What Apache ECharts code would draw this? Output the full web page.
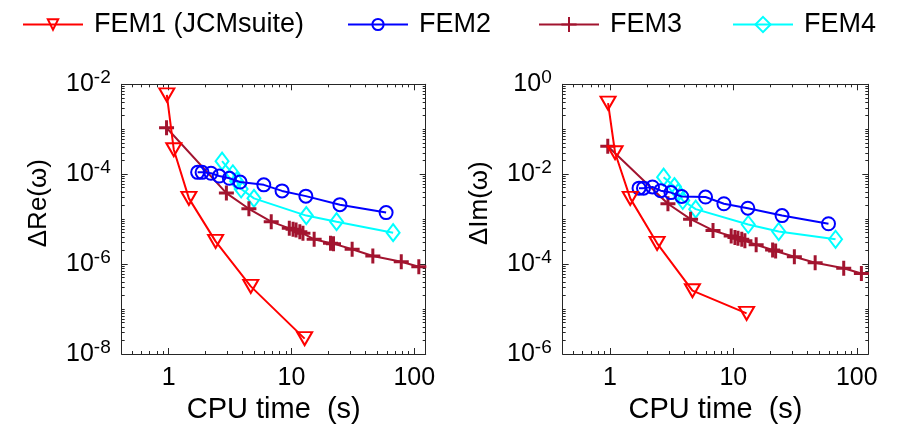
<!DOCTYPE html>
<html><head><meta charset="utf-8">
<script src="https://cdn.jsdelivr.net/npm/echarts@6/dist/echarts.min.js"></script>
<style>html,body{margin:0;padding:0;background:#fff}#c{width:903px;height:432px}</style>
</head><body><div id="c"></div>
<script>
// ---- data (CPU time in s, errors) ----
const names = ['FEM1 (JCMsuite)', 'FEM2', 'FEM3', 'FEM4'];
const xFEM1 = [0.965, 1.10, 1.46, 2.41, 4.66, 12.8];
const reFEM1 = [5.8e-3, 3.5e-4, 2.9e-5, 3.2e-6, 3.2e-7, 2.2e-8];
const imFEM1 = [0.38, 3.0e-2, 2.9e-3, 2.9e-4, 2.56e-5, 8.0e-6];

const xFEM2 = [1.72, 1.87, 2.21, 2.58, 3.12, 3.81, 5.95, 8.38, 13.1, 24.8, 59];
const reFEM2 = [1.1e-4, 1.1e-4, 1.05e-4, 9.1e-5, 8.1e-5, 6.7e-5, 5.8e-5, 4.25e-5, 3.25e-5, 2.1e-5, 1.4e-5];
const imFEM2 = [4.9e-3, 4.9e-3, 5.2e-3, 4.3e-3, 3.9e-3, 3.2e-3, 3.1e-3, 2.2e-3, 1.75e-3, 1.2e-3, 7.9e-4];

const xFEM3 = [0.96, 2.95, 4.5, 6.84, 9.6, 10.3, 10.9, 11.7, 12.4, 15.3, 20.8, 22.0, 31.2, 46, 78.4, 109];
const reFEM3 = [1.08e-3, 3.8e-5, 1.7e-5, 8.8e-6, 6.25e-6, 5.94e-6, 5.74e-6, 5.26e-6, 4.84e-6, 3.56e-6, 2.9e-6, 2.85e-6, 2.14e-6, 1.51e-6, 1.13e-6, 8.7e-7];
const imFEM3 = [4.2e-2, 2.2e-3, 1.0e-3, 5.6e-4, 4.2e-4, 3.9e-4, 3.75e-4, 3.56e-4, 3.3e-4, 2.7e-4, 2.06e-4, 1.95e-4, 1.46e-4, 1.07e-4, 8.05e-5, 6.2e-5];

const xFEM4 = [2.72, 3.33, 3.57, 3.89, 4.95, 13.2, 23.3, 67.3];
const reFEM4 = [1.95e-4, 1.02e-4, 7.0e-5, 4.7e-5, 2.9e-5, 1.2e-5, 8.8e-6, 5.0e-6];
const imFEM4 = [8.6e-3, 5.3e-3, 3.9e-3, 2.6e-3, 1.67e-3, 7.6e-4, 5.3e-4, 3.56e-4];

const xTicks = [1, 10, 100];
const yTicksRe = [1e-8, 1e-6, 1e-4, 1e-2];
const yTicksIm = [1e-6, 1e-4, 1e-2, 1];
const xRange = [0.414, 124];
const yRangeRe = [1e-8, 1e-2];
const yRangeIm = [1e-6, 1];

// ---- helpers ----
const L = Math.log10;
const FONT = '"Liberation Sans", Arial, Helvetica, sans-serif';
const AX = '#262626';
function minorList(lo, hi, majors) {
  const out = [];
  const a = Math.floor(lo) - 1, b = Math.ceil(hi) + 1;
  for (let n = a; n <= b; n++) for (let k = 1; k <= 9; k++) {
    const v = L(k) + n;
    if (v > lo + 1e-6 && v < hi - 1e-6 && !majors.some(m => Math.abs(m - v) < 1e-6)) out.push(v);
  }
  return out;
}
const colors = ['#ff0000', '#0000ff', '#a2142f', '#00ffff'];
const symbols = [
  'path://M0,0 L12,0 L6,10 Z',
  'circle',
  'path://M6,0 L6,12 M0,6 L12,6',
  'path://M6,0 L12,8 L6,16 L0,8 Z'
];
const symSizes = [[15, 13], 13, [15, 15], [13, 17]];
const symBorder = [2, 2, 3, 2];

const grids = [
  { left: 121.7, right: 903 - 425.7, top: 84.3, bottom: 432 - 354, outerBoundsMode: 'none' },
  { left: 562.7, right: 903 - 868.3, top: 84.3, bottom: 432 - 354, outerBoundsMode: 'none' }
];

const xAxes = [], yAxes = [];
const xMaj = xTicks.map(L);
const xMin = minorList(L(xRange[0]), L(xRange[1]), xMaj);
function xAxisSet(g, name) {
  const base = { type: 'value', gridIndex: g, min: L(xRange[0]), max: L(xRange[1]), splitLine: { show: false } };
  xAxes.push(Object.assign({}, base, {
    position: 'bottom', name: name, nameLocation: 'middle', nameGap: 34,
    nameTextStyle: { fontFamily: FONT, fontSize: 29, color: '#000' },
    axisLine: { show: true, onZero: false, lineStyle: { color: AX, width: 1 } },
    axisTick: { show: true, inside: true, length: 6, customValues: xMaj, lineStyle: { color: AX } },
    axisLabel: { show: true, customValues: xMaj, margin: 12, fontFamily: FONT, fontSize: 25, color: '#000',
      formatter: v => String(Math.round(Math.pow(10, v))) }
  }));
  xAxes.push(Object.assign({}, base, {
    position: 'bottom', axisLine: { show: false, onZero: false },
    axisTick: { show: true, inside: true, length: 3, customValues: xMin, lineStyle: { color: AX } },
    axisLabel: { show: false }
  }));
  xAxes.push(Object.assign({}, base, {
    position: 'top', axisLine: { show: true, onZero: false, lineStyle: { color: AX, width: 1 } },
    axisTick: { show: true, inside: true, length: 6, customValues: xMaj, lineStyle: { color: AX } },
    axisLabel: { show: false }
  }));
  xAxes.push(Object.assign({}, base, {
    position: 'top', axisLine: { show: false, onZero: false },
    axisTick: { show: true, inside: true, length: 3, customValues: xMin, lineStyle: { color: AX } },
    axisLabel: { show: false }
  }));
}
function yAxisSet(g, range, ticks, name) {
  const lo = L(range[0]), hi = L(range[1]);
  const maj = ticks.map(L);
  const mn = minorList(lo, hi, maj);
  const base = { type: 'value', gridIndex: g, min: lo, max: hi, splitLine: { show: false } };
  yAxes.push(Object.assign({}, base, {
    position: 'left', name: name, nameLocation: 'middle', nameGap: 70,
    nameTextStyle: { fontFamily: FONT, fontSize: 26, color: '#000', padding: [0, 0, 0, 32] },
    axisLine: { show: true, onZero: false, lineStyle: { color: AX, width: 1 } },
    axisTick: { show: true, inside: true, length: 6, customValues: maj, lineStyle: { color: AX } },
    axisLabel: { show: true, customValues: maj, margin: 11, fontFamily: FONT, color: '#000',
      formatter: v => '{b|10}{s|' + Math.round(v) + '}',
      rich: { b: { fontFamily: FONT, fontSize: 25, color: '#000' },
              s: { fontFamily: FONT, fontSize: 19, color: '#000', padding: [0, 0, 13, 0] } } }
  }));
  yAxes.push(Object.assign({}, base, {
    position: 'left', axisLine: { show: false, onZero: false },
    axisTick: { show: true, inside: true, length: 3, customValues: mn, lineStyle: { color: AX } },
    axisLabel: { show: false }
  }));
  yAxes.push(Object.assign({}, base, {
    position: 'right', axisLine: { show: true, onZero: false, lineStyle: { color: AX, width: 1 } },
    axisTick: { show: true, inside: true, length: 6, customValues: maj, lineStyle: { color: AX } },
    axisLabel: { show: false }
  }));
  yAxes.push(Object.assign({}, base, {
    position: 'right', axisLine: { show: false, onZero: false },
    axisTick: { show: true, inside: true, length: 3, customValues: mn, lineStyle: { color: AX } },
    axisLabel: { show: false }
  }));
}
xAxisSet(0, 'CPU time  (s)');
xAxisSet(1, 'CPU time  (s)');
yAxisSet(0, yRangeRe, yTicksRe, '\u0394Re(\u03c9)');
yAxisSet(1, yRangeIm, yTicksIm, '\u0394Im(\u03c9)');

const xs = [xFEM1, xFEM2, xFEM3, xFEM4];
const panels = [[reFEM1, reFEM2, reFEM3, reFEM4], [imFEM1, imFEM2, imFEM3, imFEM4]];
const series = [];
panels.forEach((ys, g) => {
  ys.forEach((y, s) => {
    series.push({
      name: names[s], type: 'line', xAxisIndex: g * 4, yAxisIndex: g * 4,
      data: xs[s].map((x, i) => [L(x), L(y[i])]),
      color: colors[s],
      symbol: symbols[s], symbolSize: symSizes[s], showAllSymbol: true,
      lineStyle: { color: colors[s], width: 2 },
      itemStyle: { color: 'rgba(255,255,255,0)', borderColor: colors[s], borderWidth: symBorder[s] },
      emphasis: { disabled: true }, animation: false, z: 2 + (3 - s)
    });
  });
});

const legendLefts = [22, 347, 538, 732];
const legendIconH = [13, 14, 19, 19];
const legends = names.map((n, i) => ({
  data: [n], left: legendLefts[i], top: 11, padding: 0, itemWidth: 60, itemHeight: legendIconH[i],
  selectedMode: false,
  textStyle: { fontFamily: FONT, fontSize: 27, color: '#000', padding: [0, 0, 0, 6] }
}));

const chart = echarts.init(document.getElementById('c'), null, { renderer: 'canvas' });
chart.setOption({
  animation: false,
  backgroundColor: '#fff',
  legend: legends,
  grid: grids,
  xAxis: xAxes,
  yAxis: yAxes,
  series: series
});
</script></body></html>
